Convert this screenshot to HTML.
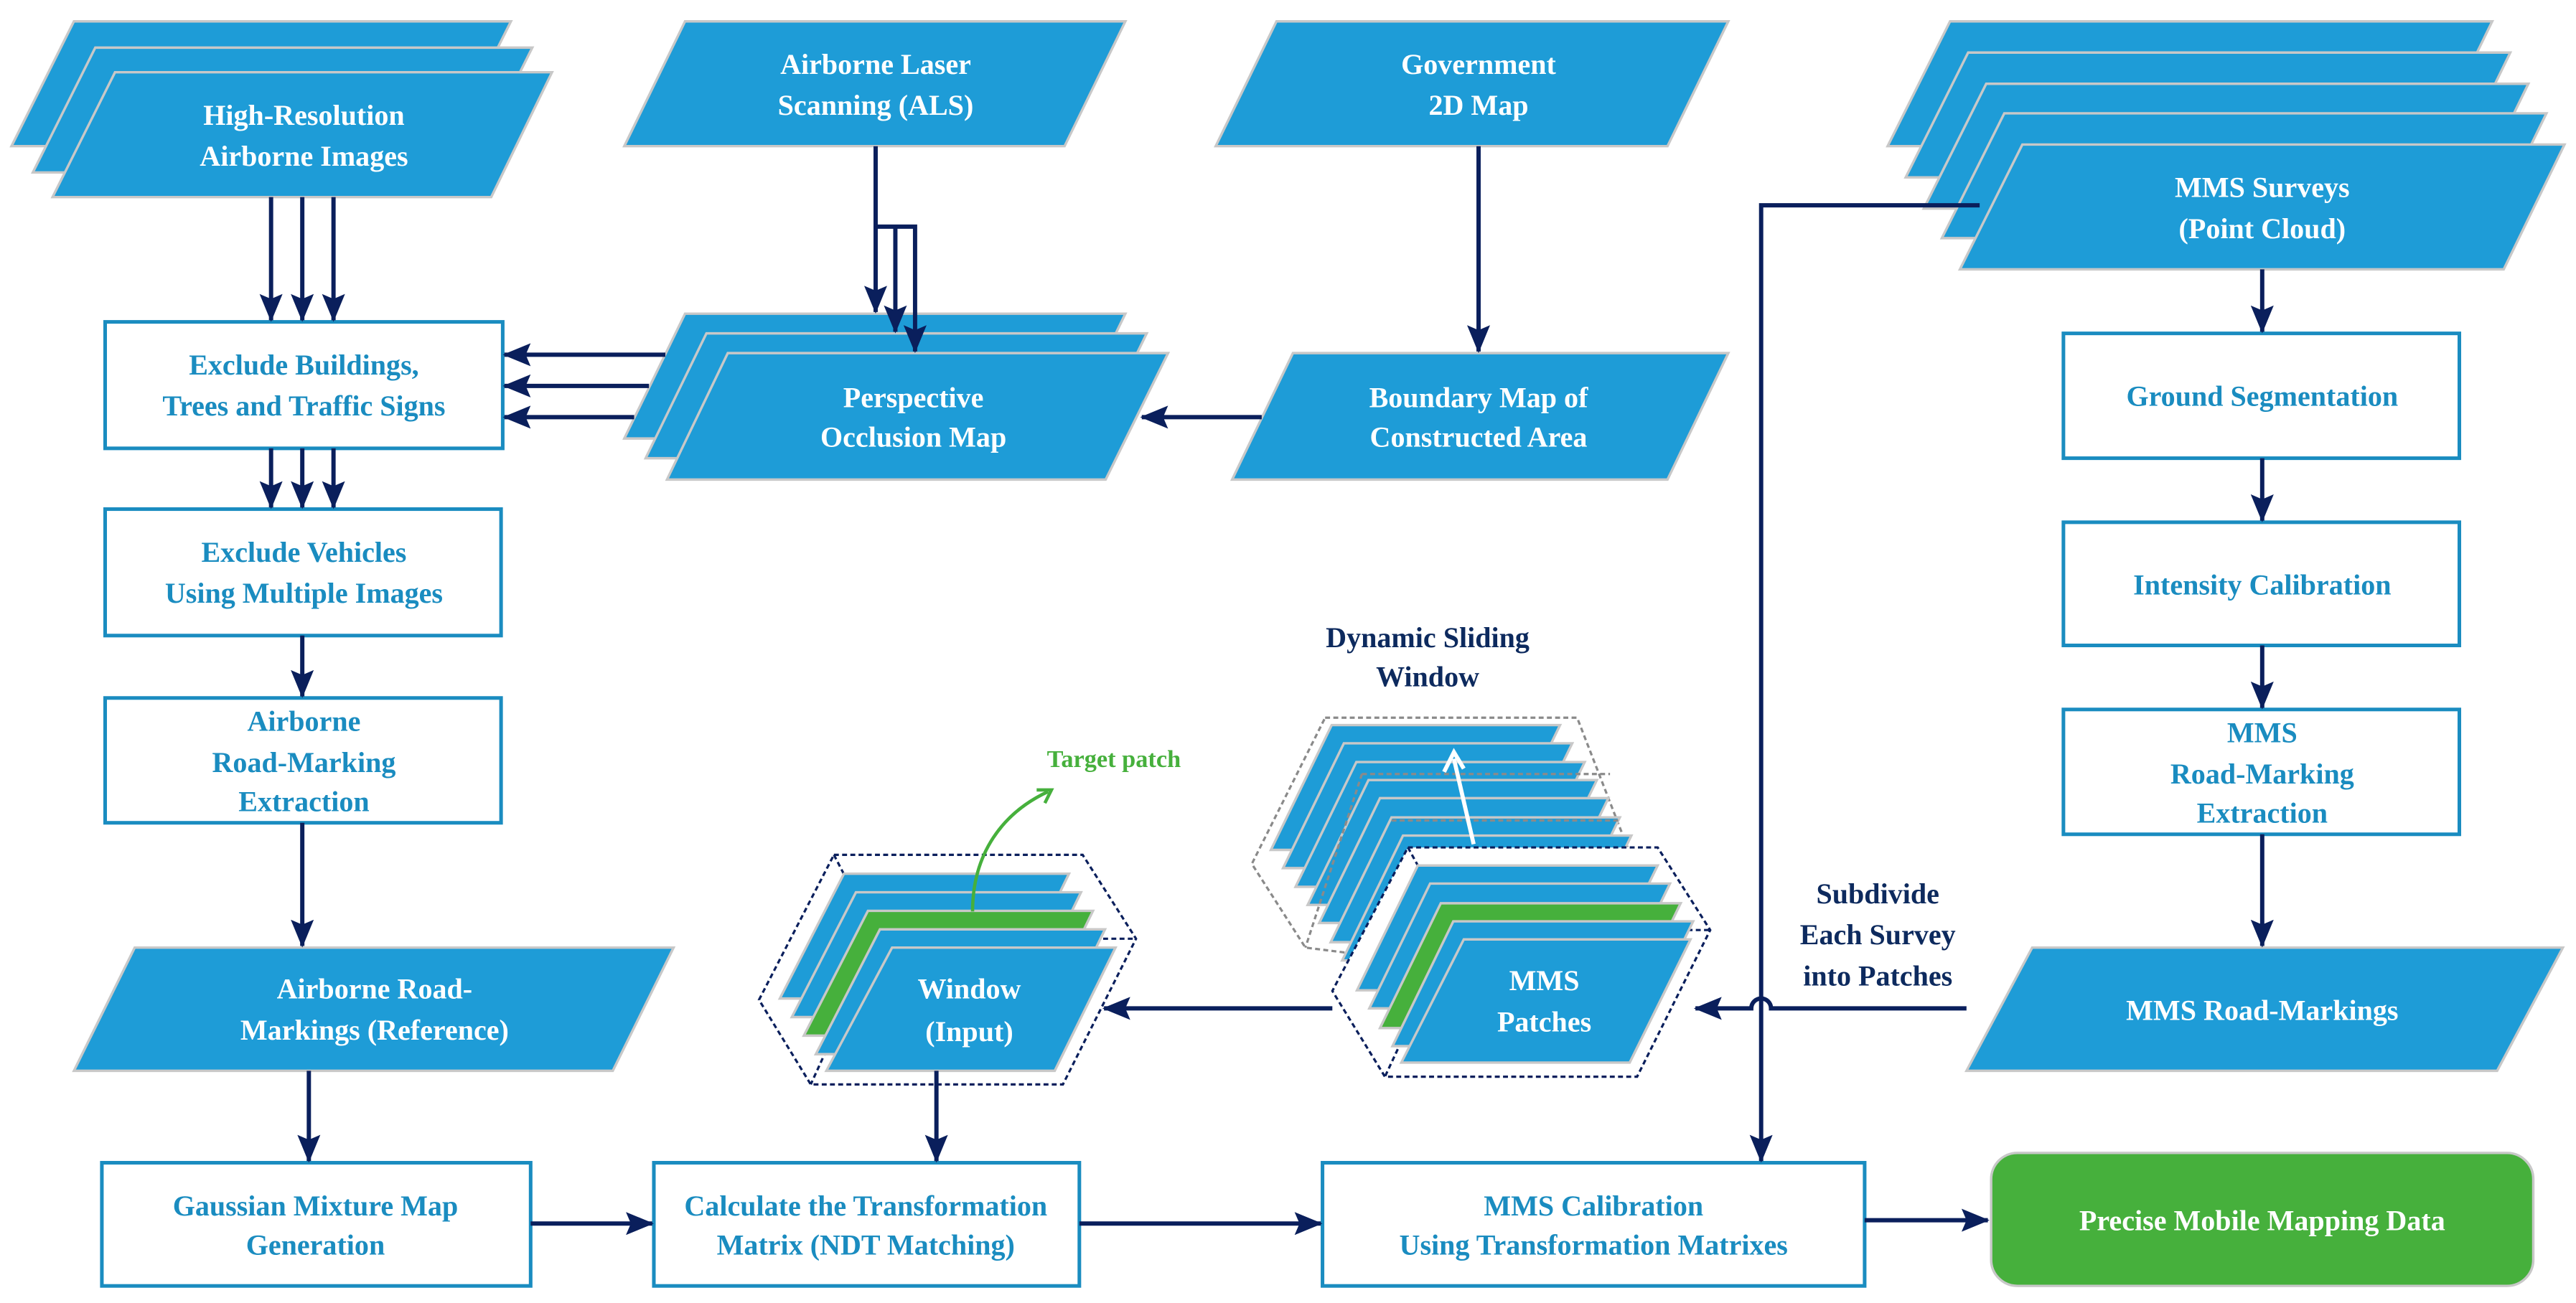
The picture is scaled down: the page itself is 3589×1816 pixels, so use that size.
<!DOCTYPE html>
<html><head><meta charset="utf-8"><style>
html,body{margin:0;padding:0;background:#fff;}
svg{display:block;}
text{font-family:"Liberation Serif",serif;font-weight:bold;font-size:17.5px;text-anchor:middle;}
.w{fill:#fff;}
.b{fill:#1a8cc0;}
.n{fill:#0d2a5e;}
.sh{fill:#1e9cd7;stroke:#c8c8c8;stroke-width:1.5;}
.gr{fill:#46b03c;stroke:#c8c8c8;stroke-width:1.5;}
.bx{fill:#fff;stroke:#1a8cc0;stroke-width:2.2;}
.ln{stroke:#0a1f5c;stroke-width:2.6;fill:none;}
.dn{stroke:#0a1f5c;stroke-width:1.4;fill:none;stroke-dasharray:3,2;}
.dg{stroke:#8a8a8a;stroke-width:1.4;fill:none;stroke-dasharray:3,2;}
</style></head><body>
<svg width="3589" height="1816" viewBox="0 0 1568 793.4" preserveAspectRatio="none" xmlns="http://www.w3.org/2000/svg">
<defs>
<marker id="a" markerWidth="18" markerHeight="14" refX="16" refY="7" orient="auto" markerUnits="userSpaceOnUse" viewBox="0 0 18 14"><path d="M0,0 L17,7 L0,14 L3,7 Z" fill="#0a1f5c"/></marker>
</defs>

<polygon class="sh" points="45,13 311,13 273,89 7,89"/>
<polygon class="sh" points="58,29 324,29 286,105 20,105"/>
<polygon class="sh" points="70,44 336,44 299,120 32,120"/>
<text class="w" x="185" y="76">High-Resolution</text>
<text class="w" x="185" y="101">Airborne Images</text>

<polygon class="sh" points="417,13 685,13 648,89 380,89"/>
<text class="w" x="533" y="45">Airborne Laser</text>
<text class="w" x="533" y="70">Scanning (ALS)</text>

<polygon class="sh" points="777,13 1052,13 1015,89 740,89"/>
<text class="w" x="900" y="45">Government</text>
<text class="w" x="900" y="70">2D Map</text>

<polygon class="sh" points="1187,13 1517,13 1480,89 1149,89"/>
<polygon class="sh" points="1198,32 1528,32 1491,108 1160,108"/>
<polygon class="sh" points="1209,51 1539,51 1502,127 1171,127"/>
<polygon class="sh" points="1220,69 1550,69 1513,145 1182,145"/>
<polygon class="sh" points="1231,88 1561,88 1524,164 1193,164"/>
<text class="w" x="1377" y="120">MMS Surveys</text>
<text class="w" x="1377" y="145">(Point Cloud)</text>

<rect class="bx" x="64" y="196" width="242" height="77"/>
<text class="b" x="185" y="228">Exclude Buildings,</text>
<text class="b" x="185" y="253">Trees and Traffic Signs</text>

<polygon class="sh" points="417,191 685,191 648,267 380,267"/>
<polygon class="sh" points="430,203 698,203 661,279 393,279"/>
<polygon class="sh" points="443,215 711,215 673,292 406,292"/>
<text class="w" x="556" y="248">Perspective</text>
<text class="w" x="556" y="272">Occlusion Map</text>

<polygon class="sh" points="787,215 1052,215 1015,292 750,292"/>
<text class="w" x="900" y="248">Boundary Map of</text>
<text class="w" x="900" y="272">Constructed Area</text>

<rect class="bx" x="64" y="310" width="241" height="77"/>
<text class="b" x="185" y="342">Exclude Vehicles</text>
<text class="b" x="185" y="367">Using Multiple Images</text>

<rect class="bx" x="64" y="425" width="241" height="76"/>
<text class="b" x="185" y="445">Airborne</text>
<text class="b" x="185" y="470">Road-Marking</text>
<text class="b" x="185" y="494">Extraction</text>

<polygon class="sh" points="82,577 410,577 373,652 45,652"/>
<text class="w" x="228" y="608">Airborne Road-</text>
<text class="w" x="228" y="633">Markings (Reference)</text>

<rect class="bx" x="62" y="708" width="261" height="75"/>
<text class="b" x="192" y="740">Gaussian Mixture Map</text>
<text class="b" x="192" y="764">Generation</text>
<rect class="bx" x="398" y="708" width="259" height="75"/>
<text class="b" x="527" y="740">Calculate the Transformation</text>
<text class="b" x="527" y="764">Matrix (NDT Matching)</text>
<rect class="bx" x="805" y="708" width="330" height="75"/>
<text class="b" x="970" y="740">MMS Calibration</text>
<text class="b" x="970" y="764">Using Transformation Matrixes</text>
<rect x="1212" y="702" width="330" height="81" rx="16" fill="#46b03c" stroke="#c8c8c8" stroke-width="1.5"/>
<text class="w" x="1377" y="749">Precise Mobile Mapping Data</text>

<rect class="bx" x="1256" y="203" width="241" height="76"/>
<text class="b" x="1377" y="247">Ground Segmentation</text>
<rect class="bx" x="1256" y="318" width="241" height="75"/>
<text class="b" x="1377" y="362">Intensity Calibration</text>
<rect class="bx" x="1256" y="432" width="241" height="76"/>
<text class="b" x="1377" y="452">MMS</text>
<text class="b" x="1377" y="477">Road-Marking</text>
<text class="b" x="1377" y="501">Extraction</text>
<polygon class="sh" points="1237,577 1560,577 1520,652 1197,652"/>
<text class="w" x="1377" y="621">MMS Road-Markings</text>

<text class="n" x="1143" y="550">Subdivide</text>
<text class="n" x="1143" y="575">Each Survey</text>
<text class="n" x="1143" y="600">into Patches</text>

<polygon class="dn" points="507.6,520.5 659,520.5 691.5,571.6 647,660.3 493.5,660.3 462,608.8"/>
<polyline class="dn" points="507.6,520.5 534,571.6 691.5,571.6"/>
<line class="dn" x1="534" y1="571.6" x2="493.5" y2="660.3"/>
<polygon class="sh" points="513.7,532 650.7,532 613.7,608 474.7,608"/>
<polygon class="sh" points="521,543.3 658,543.3 621,619.3 482,619.3"/>
<polygon class="gr" points="528.3,554.6 665.3,554.6 628.3,630.6 489.3,630.6"/>
<polygon class="sh" points="535.6,565.9 672.6,565.9 635.6,641.9 496.6,641.9"/>
<polygon class="sh" points="543,577 679,577 642,652 503,652"/>
<path d="M592,555 C592,520 610,495 638,482" stroke="#46b03c" stroke-width="2" fill="none"/>
<path d="M631,481 L640,481 L636,489" stroke="#46b03c" stroke-width="2" fill="none"/>
<text x="678" y="467" style="fill:#46b03c;font-size:15px">Target patch</text>
<text class="w" x="590" y="608">Window</text>
<text class="w" x="590" y="634">(Input)</text>

<text class="n" x="869" y="394">Dynamic Sliding</text>
<text class="n" x="869" y="418">Window</text>
<polygon class="dg" points="806.6,437 960,437 1000,540 980,600 794.6,577 762,526"/>
<polygon class="sh" points="810.6,441.5 949.6,441.5 912.6,517.5 773.6,517.5"/>
<polygon class="sh" points="818,452.6 957,452.6 920,528.6 781,528.6"/>
<polygon class="sh" points="825.6,464 964.6,464 927.6,540 788.6,540"/>
<polygon class="sh" points="833,475 972,475 935,551 796,551"/>
<polygon class="sh" points="840,486 979,486 942,562 803,562"/>
<polygon class="sh" points="847,497.7 986,497.7 949,573.7 810,573.7"/>
<polygon class="sh" points="854,508.8 993,508.8 956,584.8 817,584.8"/>
<line class="dg" x1="829" y1="471.3" x2="980" y2="471.3"/>
<line class="dg" x1="847" y1="499.6" x2="986.5" y2="499.6"/>
<line class="dg" x1="829" y1="471.3" x2="794.6" y2="577"/>
<line x1="897" y1="514" x2="885" y2="462" stroke="#fff" stroke-width="2.5"/>
<path d="M879,470 L885,458 L891,468" stroke="#fff" stroke-width="2.5" fill="none"/>

<polygon fill="#fff" stroke="none" points="857,516 1009,516 1041,566.3 996.5,655.6 843,655.6 811,603.4"/>
<polygon class="dn" points="857,516 1009,516 1041,566.3 996.5,655.6 843,655.6 811,603.4"/>
<polyline class="dn" points="857,516 884.6,566.3 1041,566.3"/>
<line class="dn" x1="884.6" y1="566.3" x2="843" y2="655.6"/>
<polygon class="sh" points="863,527 1009,527 972,603 826,603"/>
<polygon class="sh" points="870.5,538 1016.5,538 979.5,614 833.5,614"/>
<polygon class="gr" points="877,550 1023,550 986,626 840,626"/>
<polygon class="sh" points="884.6,561 1030.6,561 993.6,637 847.6,637"/>
<polygon class="sh" points="891,572 1029,572 992,647 853,647"/>
<text class="w" x="940" y="603">MMS</text>
<text class="w" x="940" y="628">Patches</text>

<line class="ln" x1="165" y1="120" x2="165" y2="195" marker-end="url(#a)"/>
<line class="ln" x1="184" y1="120" x2="184" y2="195" marker-end="url(#a)"/>
<line class="ln" x1="203" y1="120" x2="203" y2="195" marker-end="url(#a)"/>
<polyline class="ln" points="533,89 533,138 557,138 557,214" marker-end="url(#a)"/>
<polyline class="ln" points="545,138 545,202" marker-end="url(#a)"/>
<line class="ln" x1="533" y1="138" x2="533" y2="190" marker-end="url(#a)"/>
<line class="ln" x1="405" y1="216" x2="307" y2="216" marker-end="url(#a)"/>
<line class="ln" x1="395" y1="235" x2="307" y2="235" marker-end="url(#a)"/>
<line class="ln" x1="386" y1="254" x2="307" y2="254" marker-end="url(#a)"/>
<line class="ln" x1="768" y1="254" x2="695" y2="254" marker-end="url(#a)"/>
<line class="ln" x1="900" y1="89" x2="900" y2="214" marker-end="url(#a)"/>
<line class="ln" x1="165" y1="273" x2="165" y2="309" marker-end="url(#a)"/>
<line class="ln" x1="184" y1="273" x2="184" y2="309" marker-end="url(#a)"/>
<line class="ln" x1="203" y1="273" x2="203" y2="309" marker-end="url(#a)"/>
<line class="ln" x1="184" y1="387" x2="184" y2="424" marker-end="url(#a)"/>
<line class="ln" x1="184" y1="501" x2="184" y2="576" marker-end="url(#a)"/>
<line class="ln" x1="188" y1="652" x2="188" y2="707" marker-end="url(#a)"/>
<line class="ln" x1="323" y1="745" x2="397" y2="745" marker-end="url(#a)"/>
<line class="ln" x1="657" y1="745" x2="804" y2="745" marker-end="url(#a)"/>
<line class="ln" x1="1135" y1="743" x2="1210" y2="743" marker-end="url(#a)"/>
<line class="ln" x1="570" y1="652" x2="570" y2="707" marker-end="url(#a)"/>
<line class="ln" x1="811" y1="614" x2="672" y2="614" marker-end="url(#a)"/>
<path class="ln" d="M1197,614 L1078,614 A6,6 0 0 0 1066,614 L1032,614" marker-end="url(#a)"/>
<polyline class="ln" points="1205,125 1072,125 1072,707" marker-end="url(#a)"/>
<line class="ln" x1="1377" y1="164" x2="1377" y2="202" marker-end="url(#a)"/>
<line class="ln" x1="1377" y1="279" x2="1377" y2="317" marker-end="url(#a)"/>
<line class="ln" x1="1377" y1="393" x2="1377" y2="431" marker-end="url(#a)"/>
<line class="ln" x1="1377" y1="508" x2="1377" y2="576" marker-end="url(#a)"/>
</svg>
</body></html>
